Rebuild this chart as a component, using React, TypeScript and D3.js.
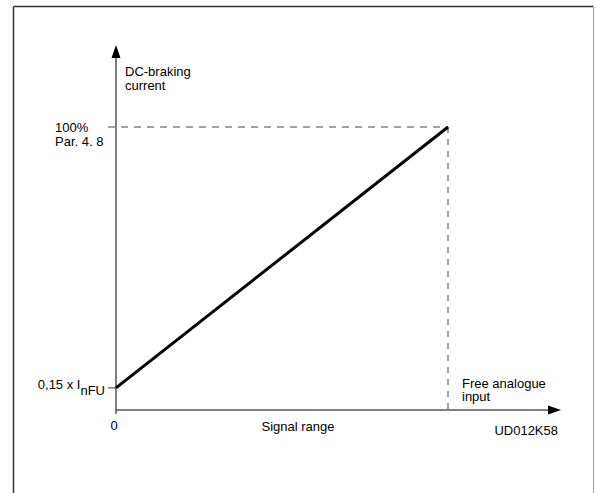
import React from "react";
import * as d3 from "d3";

const W = 596;
const H = 493;

// schematic data: signal (0..1) -> braking current (fraction of Par. 4.8)
const signalValues = [0, 1];
const currentValues = [0.15, 1];
const yTickLabels = ["100%", "Par. 4. 8"];
const xTickLabel = "0";

export default function App() {
  const x = d3.scaleLinear().domain([0, 1]).range([116, 448]);
  const y = d3.scaleLinear().domain([0.078, 1]).range([410, 127]);
  const x0 = x(0);
  const y0 = y.range()[0];
  const pts: [number, number][] = signalValues.map((s, i) => [x(s), y(currentValues[i])]);
  const line = d3.line<[number, number]>()
    .x((d) => d[0])
    .y((d) => d[1]);
  const font = "'Liberation Sans', Arial, sans-serif";
  const axisColor = "#555";
  return (
    <svg width={W} height={H} style={{ position: "absolute", left: 0, top: 0, background: "#fff" }} fontFamily={font} fontSize={13}>
      <rect x={0} y={0} width={W} height={H} fill="#fff" />
      {/* frame */}
      <line x1={13.5} y1={6.5} x2={13.5} y2={H + 2} stroke="#333" strokeWidth={1.5} />
      <line x1={13.5} y1={6.5} x2={593.5} y2={6.5} stroke="#333" strokeWidth={1.5} />
      <line x1={593.5} y1={6.5} x2={593.5} y2={H + 2} stroke="#aaa" strokeWidth={1.2} />

      {/* dashed reference lines */}
      <line x1={108} y1={y(1)} x2={x(1)} y2={y(1)} stroke="#444" strokeWidth={1} strokeDasharray="7,6" />
      <line x1={x(1)} y1={y(1)} x2={x(1)} y2={y0} stroke="#444" strokeWidth={1} strokeDasharray="6,6" />

      {/* axes */}
      <line x1={x0} y1={414} x2={x0} y2={57} stroke={axisColor} strokeWidth={1.5} />
      <path d={`M${x0},45 L${x0 - 4.5},58 L${x0 + 4.5},58 Z`} fill="#000" />
      <line x1={x0} y1={y0} x2={549} y2={y0} stroke={axisColor} strokeWidth={1.5} />
      <path d={`M561,${y0} L548,${y0 - 4.5} L548,${y0 + 4.5} Z`} fill="#000" />
      {/* tick at 0.15 */}
      <line x1={108} y1={y(currentValues[0])} x2={x0} y2={y(currentValues[0])} stroke={axisColor} strokeWidth={1.2} />

      {/* data line */}
      <path d={line(pts) || ""} fill="none" stroke="#000" strokeWidth={3} />

      {/* texts */}
      <text x={125} y={75.5}>DC-braking</text>
      <text x={125} y={89.5}>current</text>
      <text x={55} y={131.5}>{yTickLabels[0]}</text>
      <text x={55} y={146}>{yTickLabels[1]}</text>
      <text x={105} y={389} textAnchor="end">
        0,15 x I<tspan dy={5.5}>nFU</tspan>
      </text>
      <text x={x0 - 2} y={430} textAnchor="middle">{xTickLabel}</text>
      <text x={298} y={431} textAnchor="middle">Signal range</text>
      <text x={462} y={387.5}>Free analogue</text>
      <text x={462} y={401}>input</text>
      <text x={558} y={435} textAnchor="end">UD012K58</text>
    </svg>
  );
}
